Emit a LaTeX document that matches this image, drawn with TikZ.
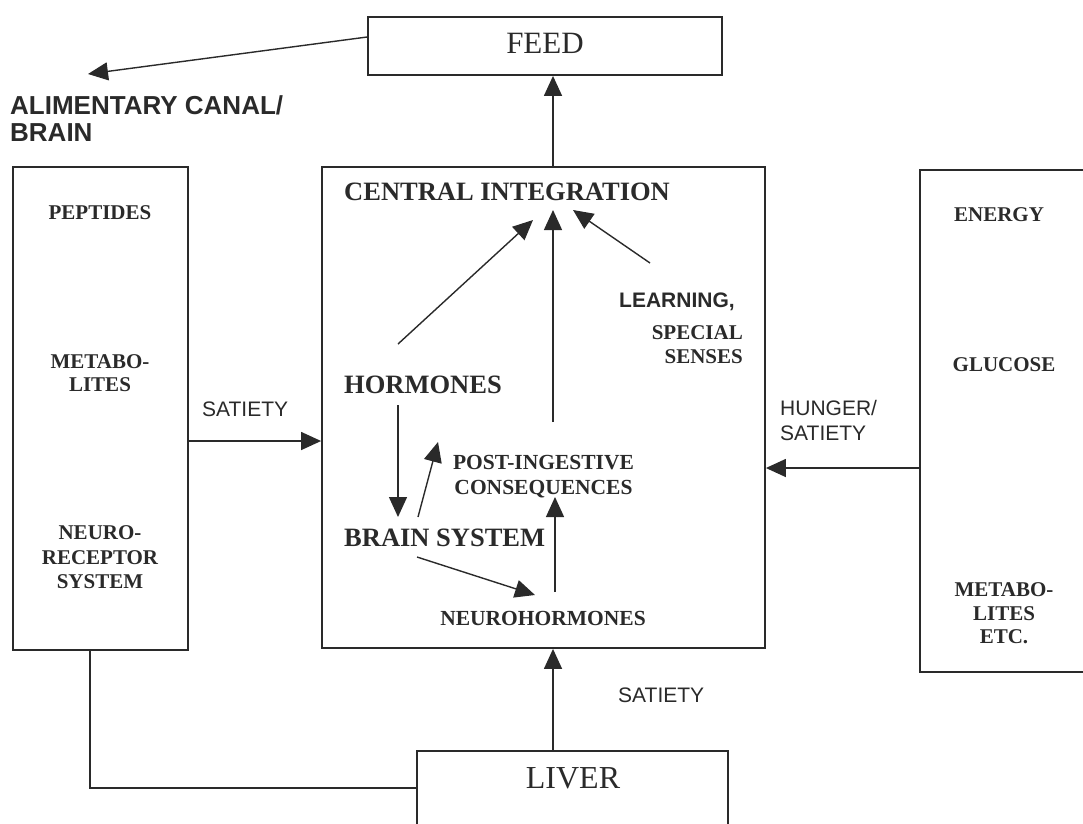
\documentclass[tikz,border=0pt]{standalone}
\usepackage{fontspec}
\setmainfont{Liberation Serif}
\setsansfont{Liberation Sans}
\usetikzlibrary{arrows.meta}
\definecolor{ink}{HTML}{2A2A2A}
\begin{document}
\begin{tikzpicture}[x=1pt,y=-1pt,
  box/.style={draw=ink, line width=1.8pt, rectangle, inner sep=0pt},
  arr/.style={draw=ink, line width=1.4pt, -{Triangle[length=20pt,width=18pt]}},
  ln/.style={draw=ink, line width=1.8pt},
  txt/.style={text=ink, inner sep=0pt, text depth=0pt},
  bigserif/.style={txt, font=\bfseries\fontsize{26.5}{28}\selectfont},
  midserif/.style={txt, font=\bfseries\fontsize{21.5}{25}\selectfont, align=center},
  boxserif/.style={txt, font=\bfseries\fontsize{21}{24}\selectfont, align=center},
  plainserif/.style={txt, font=\fontsize{32}{34}\selectfont},
  sanslab/.style={txt, font=\sffamily\fontsize{21}{25}\selectfont, align=left},
  sansbold/.style={txt, font=\sffamily\bfseries\fontsize{21}{25}\selectfont},
]
\useasboundingbox (0,0) rectangle (1083,823);
\clip (0,0) rectangle (1083,823);

% helper coordinates for levels
\coordinate (y37) at (0,37);
\coordinate (y441) at (0,441);
\coordinate (y468) at (0,468);
\coordinate (y788) at (0,788);
\coordinate (x553) at (553,0);
\coordinate (x90) at (90,0);
\coordinate (alimtip) at (88,74);

% boxes
\node[box, minimum width=354pt, minimum height=58pt] (feed) at (545,46) {};
\node[box, minimum width=175pt, minimum height=483pt] (lbox) at (100.5,408.5) {};
\node[box, minimum width=443pt, minimum height=481pt] (cbox) at (543.5,407.5) {};
\node[box, minimum width=200pt, minimum height=502pt] (rbox) at (1020,421) {};
\node[box, minimum width=311pt, minimum height=109pt] (liver) at (572.5,805.5) {};

% box titles
\node[plainserif, font=\fontsize{31}{33}\selectfont] (feedtxt) at (545,43) {FEED};
\node[plainserif] (livertxt) at (573,778) {LIVER};

% top-left label
\node[sansbold, font=\sffamily\bfseries\fontsize{26}{27}\selectfont, align=left, anchor=west] (alim) at (10,118.5) {ALIMENTARY CANAL/\\BRAIN};

% left box contents
\node[boxserif] (pep) at (100,213) {PEPTIDES};
\node[boxserif, font=\bfseries\fontsize{21}{23}\selectfont] (metl) at (100,373.5) {METABO-\\LITES};
\node[boxserif, font=\bfseries\fontsize{21}{24.5}\selectfont] (nrs) at (100,557.5) {NEURO-\\RECEPTOR\\SYSTEM};

% right box contents
\node[boxserif] (energy) at (999,215) {ENERGY};
\node[boxserif] (gluc) at (1004,365) {GLUCOSE};
\node[boxserif, font=\bfseries\fontsize{21}{23.5}\selectfont] (metr) at (1004,613.5) {METABO-\\LITES\\ETC.};

% central contents
\node[bigserif, anchor=west] (central) at (344,192) {CENTRAL INTEGRATION};
\node[bigserif, anchor=west] (hormones) at (344,385) {HORMONES};
\node[bigserif, anchor=west] (brain) at (344,538) {BRAIN SYSTEM};
\node[midserif] (post) at (543.5,474.5) {POST-INGESTIVE\\CONSEQUENCES};
\node[midserif] (neuro) at (543,618) {NEUROHORMONES};
\node[sansbold, anchor=west] (learn) at (619,300) {LEARNING,};
\node[boxserif, align=right, anchor=east] (special) at (743,345) {SPECIAL\\SENSES};

% connector labels
\node[sanslab, anchor=west] (sat1) at (202,409) {SATIETY};
\node[sanslab, anchor=west] (hung) at (780,420.5) {HUNGER/\\SATIETY};
\node[sanslab, anchor=west] (sat2) at (618,695) {SATIETY};

% outer connectors
\draw[arr] (feed.west |- y37) -- (alimtip);
\draw[arr] (cbox.north -| x553) -- (feed.south -| x553);
\draw[arr] (lbox.east |- y441) -- (cbox.west |- y441);
\draw[arr] (rbox.west |- y468) -- (cbox.east |- y468);
\draw[arr] (liver.north -| x553) -- (cbox.south -| x553);
\draw[ln] (lbox.south -| x90) |- (liver.west |- y788);

% inner connectors
\draw[arr] ([shift={(54,-41)}]hormones.west) -- ([shift={(189,28)}]central.west);
\draw[arr] ([shift={(9.5,-52.5)}]post.center) -- ([shift={(209,18)}]central.west);
\draw[arr] ([shift={(31,-37)}]learn.west) -- ([shift={(229,18)}]central.west);
\draw[arr] ([shift={(54,20)}]hormones.west) -- ([shift={(54,-21)}]brain.west);
\draw[arr] ([shift={(74,-21)}]brain.west) -- ([shift={(-105.5,-32.5)}]post.center);
\draw[arr] ([shift={(73,19)}]brain.west) -- ([shift={(-8,-23)}]neuro.center);
\draw[arr] ([shift={(12,-26)}]neuro.center) -- ([shift={(11.5,22.5)}]post.center);
\end{tikzpicture}
\end{document}
